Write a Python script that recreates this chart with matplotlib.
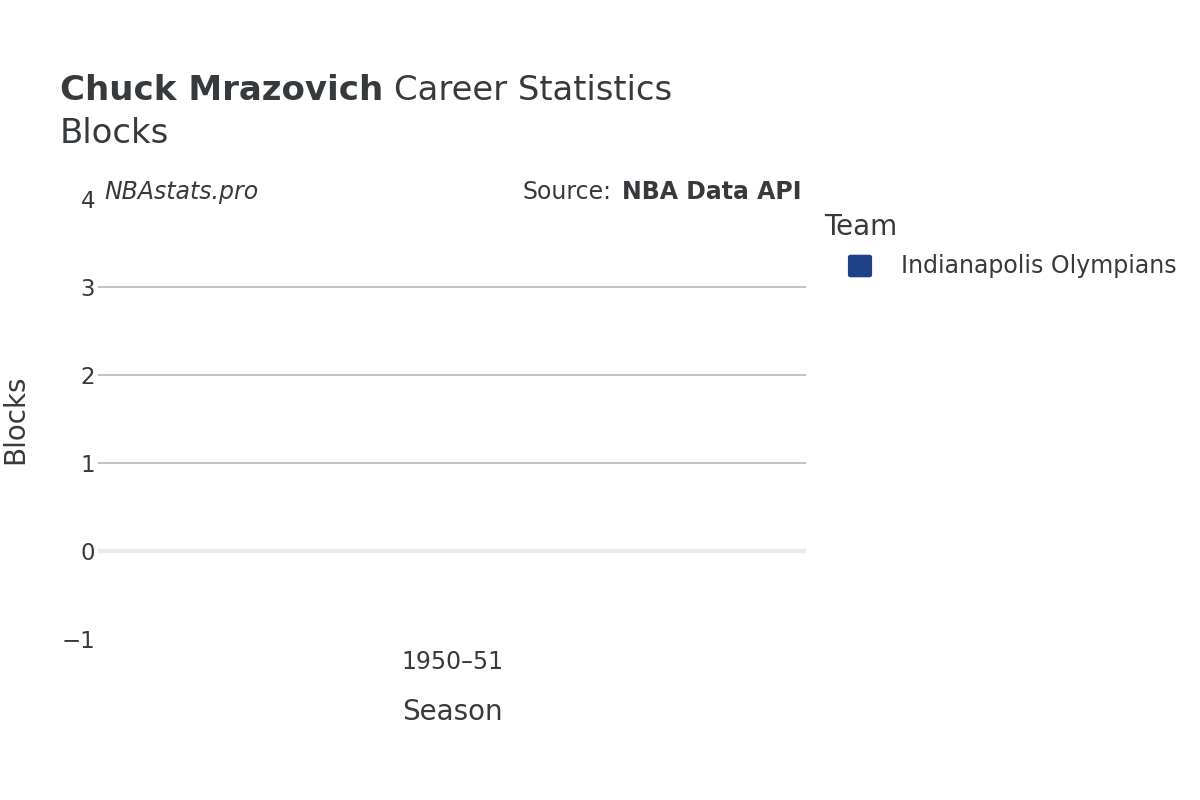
import matplotlib.pyplot as plt
from matplotlib.patches import FancyBboxPatch

# data
seasons = ["1950\u201351"]
blocks = [0]
team = "Indianapolis Olympians"
team_color = "#1d428a"

yticks = [-1, 0, 1, 2, 3, 4]
ytick_labels = ["\u22121", "0", "1", "2", "3", "4"]

plt.rcParams['font.family'] = ['DejaVu Sans']
text_color = "#363a3c"

fig = plt.figure(figsize=(12, 8), dpi=100)
ax = fig.add_axes([98 / 1200, 1 - 639 / 800, 708 / 1200, 440 / 800])

ax.bar(seasons, blocks, color=team_color, width=0.8)
ax.set_xlim(-0.5, 0.5)
ax.set_ylim(-1, 4)

ax.set_yticks(yticks)
ax.set_yticklabels(ytick_labels)
for y in [1, 2, 3]:
    ax.axhline(y, color="#bdbdbd", lw=1.3, zorder=0)
ax.axhline(0, color="#ebebeb", lw=3, zorder=0)

for s in ax.spines.values():
    s.set_visible(False)
ax.tick_params(axis='both', length=0, labelsize=16.5, colors=text_color)
ax.tick_params(axis='y', pad=2)
ax.tick_params(axis='x', pad=8)
for lbl in ax.get_xticklabels():
    lbl.set_fontsize(17)

ax.set_xlabel("Season", fontsize=20, color=text_color)
ax.xaxis.set_label_coords(0.5, -0.135)
ax.set_ylabel("Blocks", fontsize=20, color=text_color)
ax.yaxis.set_label_coords(-0.097, 0.5)

# titles
fig.text(60 / 1200, 1 - 100 / 800, "Chuck Mrazovich", fontsize=24.5, fontweight='bold',
         color=text_color, va='baseline', ha='left')
fig.text(394 / 1200, 1 - 100 / 800, "Career Statistics", fontsize=24.4,
         color=text_color, va='baseline', ha='left')
fig.text(60 / 1200, 1 - 143 / 800, "Blocks", fontsize=24.4,
         color=text_color, va='baseline', ha='left')

fig.text(104 / 1200, 1 - 199 / 800, "NBAstats.pro", fontsize=17, style='italic',
         color=text_color, va='baseline', ha='left')
fig.text(522 / 1200, 1 - 199 / 800, "Source:", fontsize=17,
         color=text_color, va='baseline', ha='left')
fig.text(802 / 1200, 1 - 199 / 800, "NBA Data API", fontsize=17, fontweight='bold',
         color=text_color, va='baseline', ha='right')

# legend
fig.text(824 / 1200, 1 - 235 / 800, "Team", fontsize=20, color=text_color,
         va='baseline', ha='left')
marker = FancyBboxPatch((851 / 1200, 1 - 275 / 800), 18 / 1200, 18 / 800,
                        boxstyle="round,pad=0.002", transform=fig.transFigure,
                        facecolor=team_color, edgecolor=team_color, figure=fig)
fig.patches.append(marker)
fig.text(901 / 1200, 1 - 266 / 800, team, fontsize=17, color=text_color,
         va='center', ha='left')

fig.savefig("out.png", dpi=100, facecolor="white")
